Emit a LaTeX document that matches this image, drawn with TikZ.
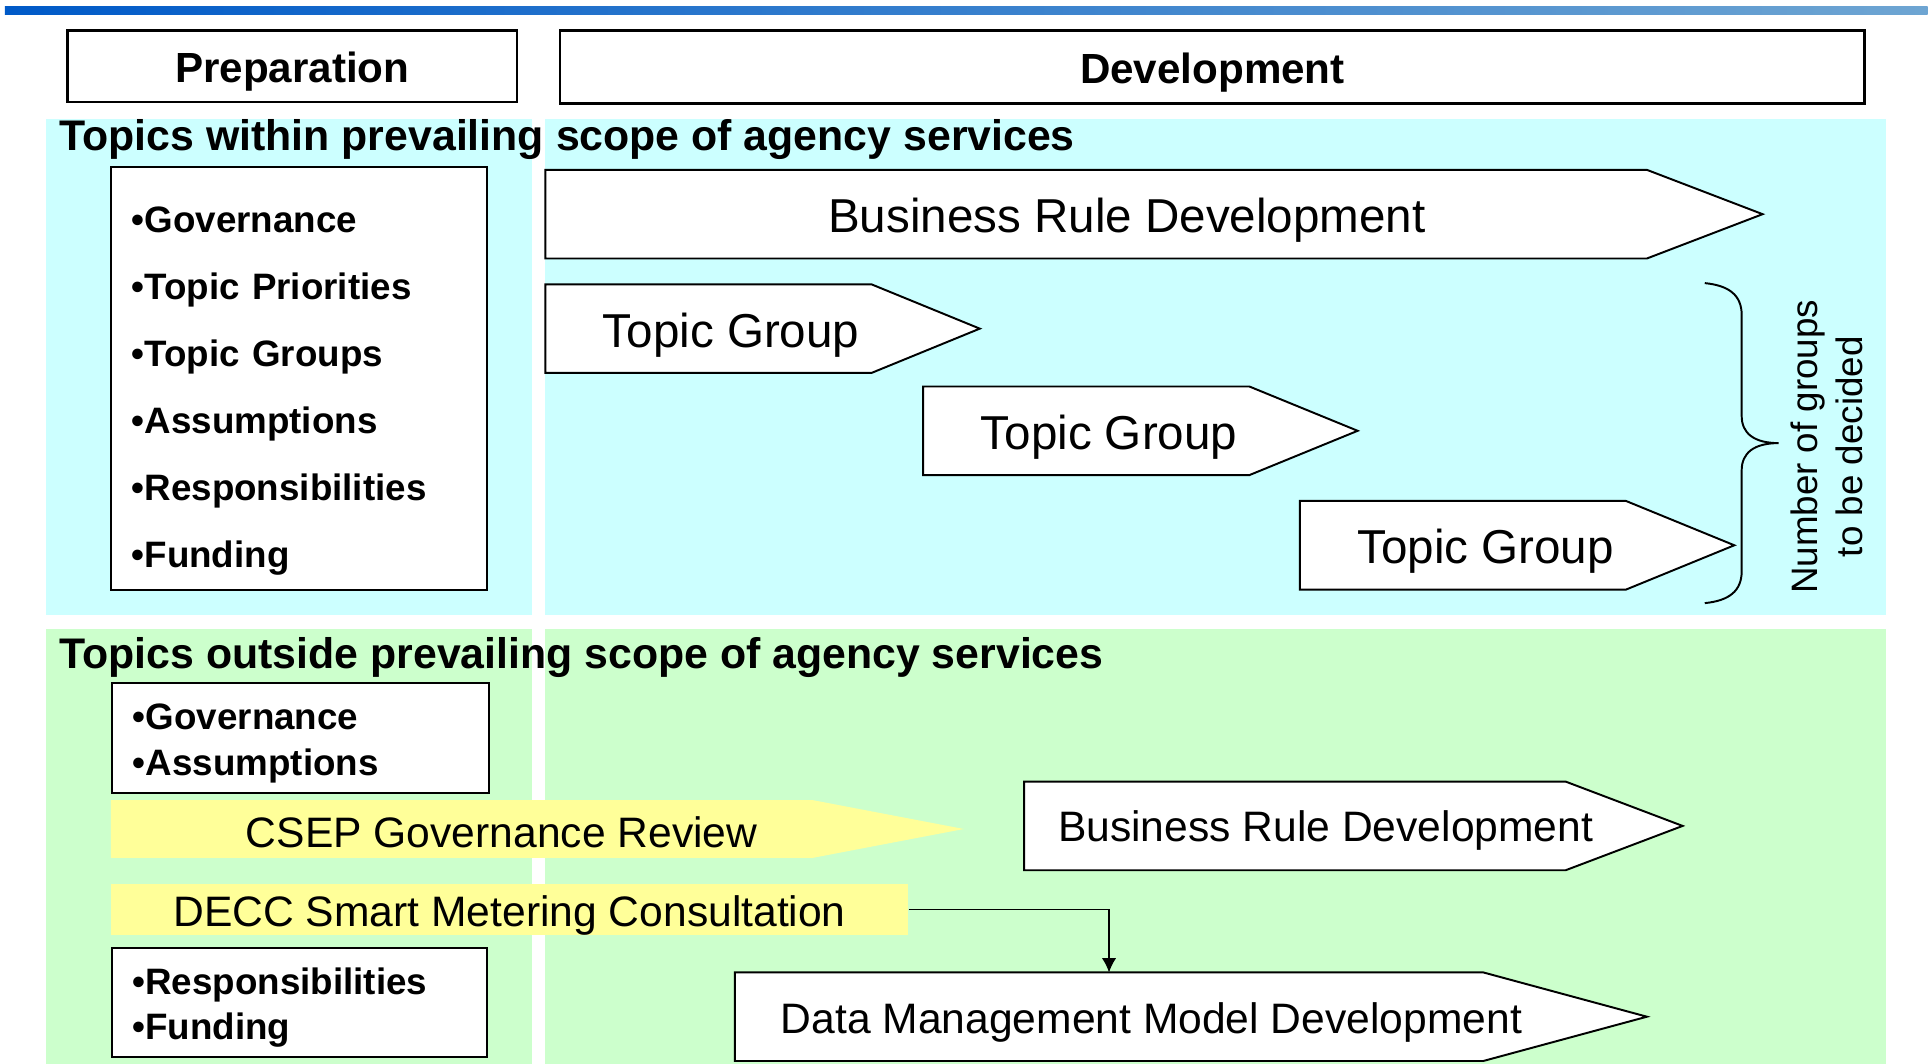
\documentclass[tikz,border=0pt]{standalone}
\usepackage{fontspec}
\setmainfont{Liberation Sans}
\usetikzlibrary{arrows.meta}

\definecolor{withinblue}{RGB}{204,255,255}
\definecolor{outsidegreen}{RGB}{204,255,204}
\definecolor{reviewyellow}{RGB}{255,255,153}
\definecolor{barleft}{RGB}{0,90,200}
\definecolor{barright}{RGB}{110,165,210}

\tikzset{
  phasebox/.style={draw, line width=1.2pt, fill=white},
  phasetext/.style={font=\fontsize{19.5}{23}\selectfont\bfseries},
  scopetitle/.style={anchor=base west, inner sep=0pt,
    font=\fontsize{19.8}{23}\selectfont\bfseries},
  itembox/.style={draw, line width=0.9pt, fill=white, minimum width=6.12cm},
  itemlist/.style={align=left, inner sep=0pt, text width=5.44cm,
    font=\fontsize{17}{31}\selectfont\bfseries},
  stagearrow/.style={draw, line width=0.9pt, fill=white},
  bigtext/.style={font=\fontsize{22}{26}\selectfont},
  midtext/.style={font=\fontsize{19.7}{23}\selectfont}
}

\begin{document}
\begin{tikzpicture}[x=0.02cm, y=-0.02cm]
            \useasboundingbox (0,0) rectangle (1568,864.4);
            \shade [left color=barleft, right color=barright]
               (4,5.5) rectangle (1566,12);

            % background bands
            \fill [withinblue] (37,97) rectangle (432,500);
            \fill [withinblue] (443,97) rectangle (1532,500);
            \fill [outsidegreen] (37,511) rectangle (432,864.4);
            \fill [outsidegreen] (443,511) rectangle (1532,864.4);

            \node [phasebox, minimum width=7.3cm, minimum height=1.16cm]
               (prep) at (237.5,54) {};
            \node [phasetext] (preptext) at (237.5,58) {Preparation};
            \node [phasebox, minimum width=21.2cm, minimum height=1.18cm]
               (dev) at (985,54.5) {};
            \node [phasetext] (devtext) at (985,59) {Development};

            \node [scopetitle] (within) at (48,122)
               {Topics within prevailing scope of agency services};
            \node [scopetitle] (outside) at (48,543)
               {Topics outside prevailing scope of agency services};

            % preparation lists
            \node [itembox, minimum height=6.86cm] (prepall) at (243,307.5) {};
            \node [itemlist] (prepalllist) at (243,317.5)
               {•Governance\\•Topic Priorities\\•Topic Groups\\%
                •Assumptions\\•Responsibilities\\•Funding};
            \node [itembox, minimum height=1.78cm] (prepgov) at (244,599.5) {};
            \node [itemlist, font=\fontsize{17}{21}\selectfont\bfseries]
               (prepgovlist) at (244,604) {•Governance\\•Assumptions};
            \node [itembox, minimum width=6.1cm, minimum height=1.78cm]
               (prepresp) at (243.5,814.5) {};
            \node [itemlist, font=\fontsize{17}{21}\selectfont\bfseries]
               (preplistresp) at (243.5,818.5) {•Responsibilities\\•Funding};

            % development stages
            \draw [stagearrow]
               (443,138) -- (1338,138) -- (1432,174) -- (1338,210) -- (443,210) -- cycle;
            \node [bigtext] (brdwithin) at (915.5,179) {Business Rule Development};

            \foreach \gx/\gy/\gname in {443/231/tgone, 750/314/tgtwo, 1056/407/tgthree} {
               \draw [stagearrow]
                  (\gx,\gy) -- ({\gx+265},\gy) -- ({\gx+353},{\gy+36})
                  -- ({\gx+265},{\gy+72}) -- (\gx,{\gy+72}) -- cycle;
               \node [bigtext] (\gname) at ({\gx+151},{\gy+41}) {Topic Group};
            }

            \draw [line width=0.9pt]
               (1385,230) .. controls (1405,232) and (1415,240) .. (1415,256)
               -- (1415,338) .. controls (1415,352) and (1425,360) .. (1445,360)
               .. controls (1425,360) and (1415,368) .. (1415,382)
               -- (1415,464) .. controls (1415,480) and (1405,488) .. (1385,490);
            \node [rotate=90, align=center, font=\fontsize{17}{21}\selectfont]
               (groupnote) at (1484,363) {Number of groups\\to be decided};

            \fill [reviewyellow]
               (90,650) -- (660,650) -- (783,673.5) -- (660,697) -- (90,697) -- cycle;
            \node [midtext] (csep) at (407.5,676) {CSEP Governance Review};

            \node [fill=reviewyellow, minimum width=12.96cm, minimum height=0.84cm,
               inner sep=0pt] (decc) at (414,739) {};
            \node [midtext] (decctext) at (414,744) {DECC Smart Metering Consultation};

            \draw [stagearrow]
               (832,635) -- (1272,635) -- (1367,671) -- (1272,707) -- (832,707) -- cycle;
            \node [midtext] (brdoutside) at (1077,675) {Business Rule Development};

            \draw [stagearrow]
               (597,790) -- (1205,790) -- (1338,826) -- (1205,862) -- (597,862) -- cycle;
            \node [midtext] (dmm) at (935.5,831) {Data Management Model Development};
            \coordinate (dmmtop) at (901,790);

            \draw [line width=0.6pt, -{Latex[length=0.23cm, width=0.23cm]}]
               (decc.east) -| (dmmtop);
         \end{tikzpicture}
\end{document}
